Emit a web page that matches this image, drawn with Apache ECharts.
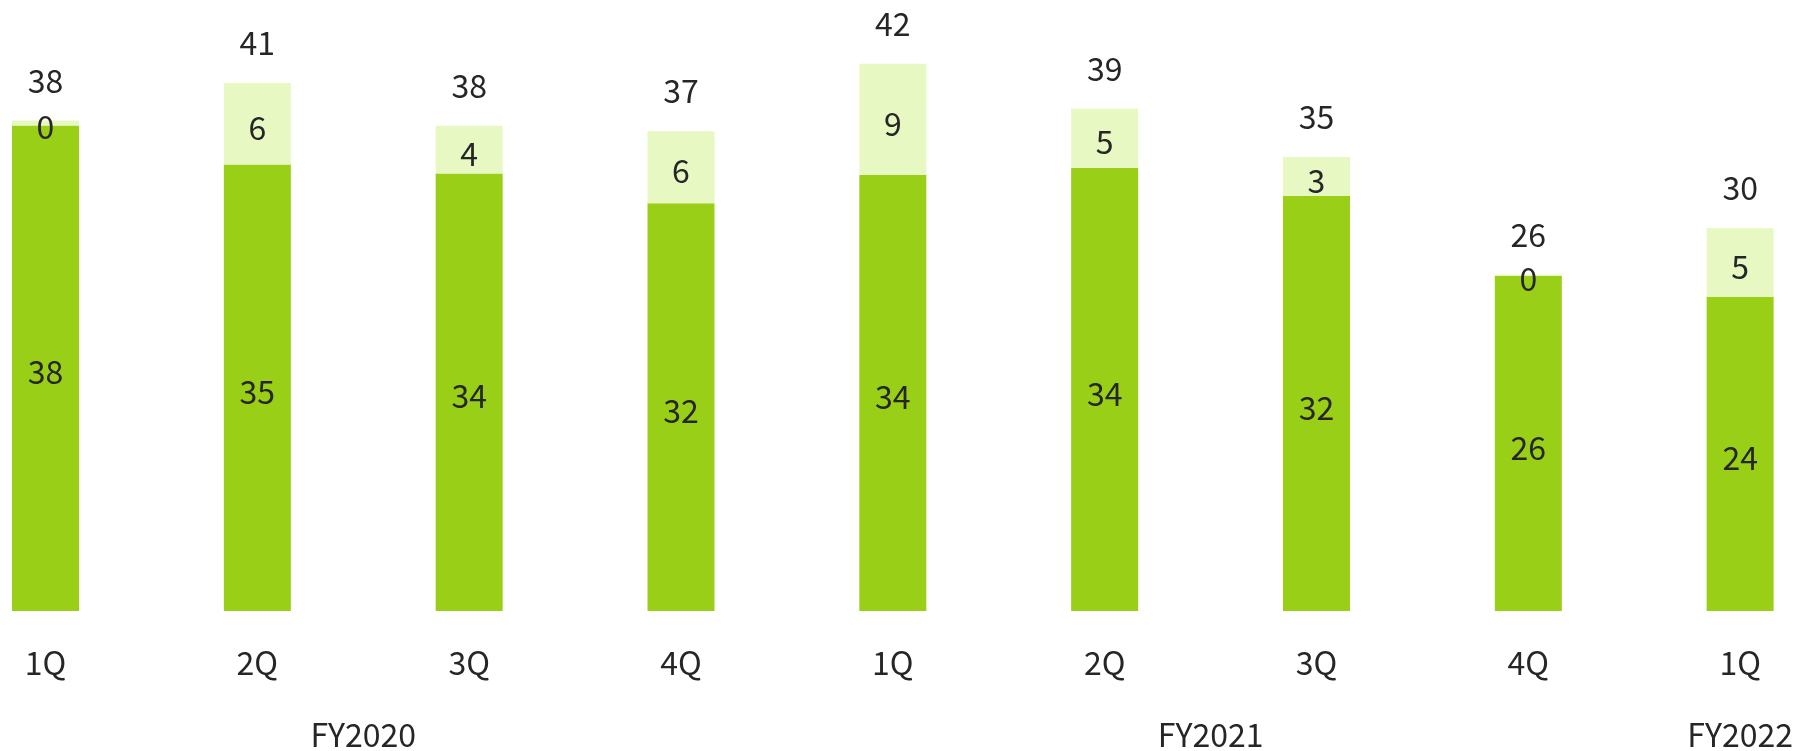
<!DOCTYPE html>
<html>
<head>
<meta charset="utf-8">
<script src="https://cdn.jsdelivr.net/npm/echarts@6/dist/echarts.min.js"></script>
<style>
  html, body { margin: 0; padding: 0; background: #ffffff; }
  #chart { width: 1796px; height: 751px; }
</style>
</head>
<body>
<div id="chart"></div>
<script>
// Quarterly results, stacked: base part plus the added part on top
const quarters = ['1Q', '2Q', '3Q', '4Q', '1Q', '2Q', '3Q', '4Q', '1Q'];
const fiscalYears = ['FY2020', 'FY2021', 'FY2022'];
// Slot on a half-quarter grid (0..16) where each fiscal-year caption is centred
const fiscalYearSlots = [3, 11, 16];
const baseValues = [37.57, 34.56, 33.87, 31.56, 33.74, 34.31, 32.12, 25.95, 24.33];
const addedValues = [0.39, 6.30, 3.68, 5.57, 8.61, 4.57, 3.01, 0.10, 5.30];

const totals = baseValues.map((v, i) => v + addedValues[i]);
const yearAxisData = Array.from({ length: quarters.length * 2 - 1 }, () => '');
fiscalYearSlots.forEach((slot, i) => { yearAxisData[slot] = fiscalYears[i]; });

const FONT = '"Noto Sans CJK JP", "Noto Sans", sans-serif';
const TEXT_COLOR = '#262626';
const FONT_SIZE = 32;
const rounded = p => String(Math.round(p.value));

const insideLabel = {
  show: true,
  position: 'inside',
  offset: [0, 4],
  formatter: rounded,
  color: TEXT_COLOR,
  fontFamily: FONT,
  fontSize: FONT_SIZE
};

const chart = echarts.init(document.getElementById('chart'), null, { renderer: 'canvas' });
chart.setOption({
  animation: false,
  backgroundColor: '#ffffff',
  textStyle: { fontFamily: FONT },
  // bars sit on the ticks, so the first and last bars reach past the grid edges
  grid: { left: 45.5, width: 1694.8, top: 29.6, height: 583.7, containLabel: false },
  xAxis: [
    {
      type: 'category',
      data: quarters,
      boundaryGap: false,
      axisLine: { show: false },
      axisTick: { show: false },
      splitLine: { show: false },
      axisLabel: { color: TEXT_COLOR, fontFamily: FONT, fontSize: FONT_SIZE, margin: 36, interval: 0 }
    },
    {
      type: 'category',
      data: yearAxisData,
      position: 'bottom',
      boundaryGap: false,
      axisLine: { show: false },
      axisTick: { show: false },
      splitLine: { show: false },
      axisLabel: { color: TEXT_COLOR, fontFamily: FONT, fontSize: FONT_SIZE, margin: 108, interval: 0 }
    }
  ],
  yAxis: {
    type: 'value',
    min: 0,
    max: 45,
    show: false,
    splitLine: { show: false }
  },
  series: [
    {
      name: 'base',
      type: 'bar',
      stack: 'q',
      barWidth: 67,
      clip: false,
      data: baseValues,
      itemStyle: { color: '#9ACF18' },
      label: insideLabel
    },
    {
      name: 'added',
      type: 'bar',
      stack: 'q',
      barWidth: 67,
      clip: false,
      data: addedValues,
      itemStyle: { color: '#E7F8C2' },
      label: insideLabel
    },
    {
      name: 'total',
      type: 'bar',
      barWidth: 67,
      barGap: '-100%',
      clip: false,
      z: 0,
      data: totals,
      itemStyle: { color: 'rgba(0,0,0,0)' },
      silent: true,
      label: { show: true, position: 'top', distance: 24, formatter: rounded, color: TEXT_COLOR, fontFamily: FONT, fontSize: FONT_SIZE }
    }
  ]
});
</script>
</body>
</html>
